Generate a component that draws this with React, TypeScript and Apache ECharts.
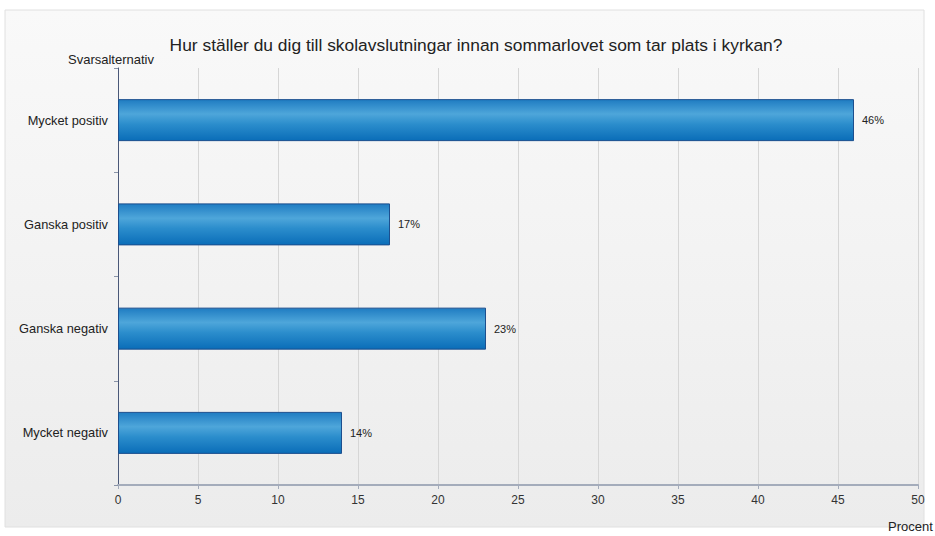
import React, { useEffect, useRef } from "react";
import * as echarts from "echarts";

const categories = ["Mycket positiv", "Ganska positiv", "Ganska negativ", "Mycket negativ"];
const values = [46, 17, 23, 14];
const titleText = "Hur ställer du dig till skolavslutningar innan sommarlovet som tar plats i kyrkan?";
const yAxisName = "Svarsalternativ";
const xAxisName = "Procent";

export default function App() {
  const ref = useRef<HTMLDivElement>(null);
  useEffect(() => {
    document.body.style.margin = "0";
    if (!ref.current) return;
    const chart = echarts.init(ref.current, null, { renderer: "svg" });
    const font = "Arial, 'Liberation Sans', sans-serif";
    chart.setOption({
      animation: false,
      backgroundColor: "#ffffff",
      title: {
        text: titleText,
        left: 471,
        textAlign: "center",
        top: 31,
        textStyle: { fontSize: 17.4, fontWeight: "normal", color: "#222", fontFamily: font },
      },
      graphic: [
        {
          type: "rect",
          z: -10,
          silent: true,
          shape: { x: 5, y: 10, width: 919, height: 517 },
          style: {
            fill: new echarts.graphic.LinearGradient(0, 0, 0, 1, [
              { offset: 0, color: "#f9f9f9" },
              { offset: 1, color: "#ececec" },
            ]),
            stroke: "#e0e0e0",
            lineWidth: 1,
          },
        },
        {
          type: "text",
          x: 68,
          y: 53,
          style: { text: yAxisName, fontSize: 13, fill: "#222", fontFamily: font },
        },
        {
          type: "text",
          x: 888,
          y: 520,
          style: { text: xAxisName, fontSize: 13, fill: "#222", fontFamily: font },
        },
      ],
      grid: { left: 118, right: 17, top: 68, bottom: 51, containLabel: false },
      xAxis: {
        type: "value",
        min: 0,
        max: 50,
        interval: 5,
        axisLine: { show: true, lineStyle: { color: "#a4acbb", width: 2 } },
        axisTick: { show: true, length: 4, lineStyle: { color: "#a4acbb" } },
        axisLabel: { color: "#333", fontSize: 12, margin: 9, fontFamily: font },
        splitLine: { show: true, lineStyle: { color: "#d6d6d6", width: 1 } },
      },
      yAxis: {
        type: "category",
        data: categories,
        inverse: true,
        axisLine: { show: true, lineStyle: { color: "#4a5878", width: 1 } },
        axisTick: { show: true, length: 4, lineStyle: { color: "#8a94a8" } },
        axisLabel: { color: "#222", fontSize: 12.8, margin: 10, fontFamily: font },
        splitLine: { show: false },
      },
      series: [
        {
          type: "bar",
          data: values,
          barWidth: 42,
          itemStyle: {
            color: new echarts.graphic.LinearGradient(0, 0, 0, 1, [
              { offset: 0, color: "#1f7cc2" },
              { offset: 0.35, color: "#4ea6da" },
              { offset: 0.6, color: "#2b8dcc" },
              { offset: 1, color: "#0a6db8" },
            ]),
            borderColor: "#1c4f8e",
            borderWidth: 1,
          },
          label: {
            show: true,
            position: "right",
            distance: 8,
            formatter: "{c}%",
            fontSize: 11,
            color: "#222",
            fontFamily: font,
          },
        },
      ],
    });
    return () => chart.dispose();
  }, []);
  return <div ref={ref} style={{ width: 935, height: 536 }} />;
}
